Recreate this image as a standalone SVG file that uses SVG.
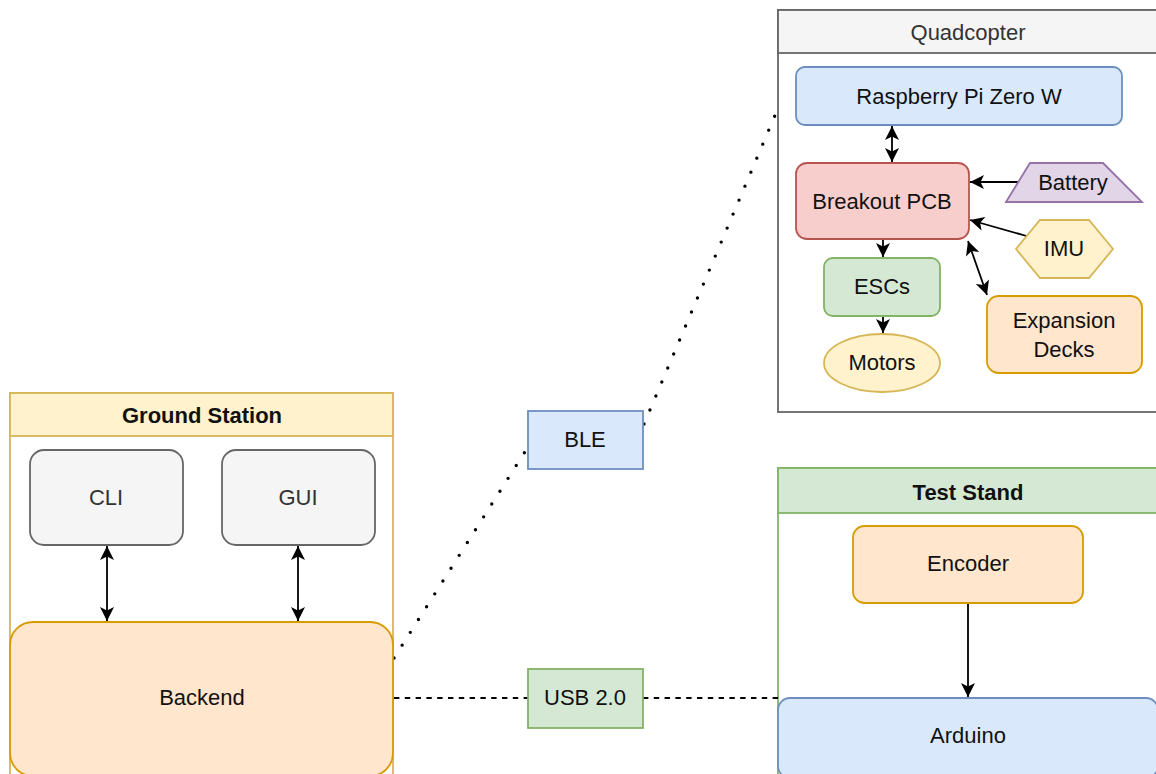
<svg xmlns="http://www.w3.org/2000/svg" width="1156" height="774" viewBox="0 0 1156 774">
<style>
text{font-family:"Liberation Sans",Arial,sans-serif;font-size:22px;fill:#111;text-anchor:middle;dominant-baseline:central}
.hdr{font-weight:bold}
.gray{fill:#333333}
.n{stroke-width:1.8}
.blue{fill:#dae8fc;stroke:#6c8ebf}
.red{fill:#f8cecc;stroke:#b85450}
.purple{fill:#e1d5e7;stroke:#9673a6}
.yellow{fill:#fff2cc;stroke:#d6b656}
.green{fill:#d5e8d4;stroke:#82b366}
.orange{fill:#ffe6cc;stroke:#d79b00}
.grey{fill:#f5f5f5;stroke:#666666}
.edge{fill:none;stroke:#000;stroke-width:1.8}
.dotted{fill:none;stroke:#000;stroke-width:3.4;stroke-linecap:round;stroke-dasharray:0 15.2}
.dashed{fill:none;stroke:#000;stroke-width:1.8;stroke-dasharray:5.4 5.4}
</style>
<defs>
<marker id="arr" viewBox="-15 -8 16 16" refX="0" refY="0" markerWidth="16" markerHeight="16" markerUnits="userSpaceOnUse" orient="auto-start-reverse">
<path d="M0,0 L-14,-7 L-10.5,0 L-14,7 Z" fill="#000"/>
</marker>
</defs>
<rect width="1156" height="774" fill="#fff"/>

<g id="quadcopter">
<rect x="778" y="10" width="380" height="402" fill="#fff" stroke="#666666" stroke-width="1.8"/>
<rect x="778" y="10" width="380" height="43" fill="#f5f5f5" stroke="#666666" stroke-width="1.8"/>
<text x="968" y="32" class="gray">Quadcopter</text>
</g>
<g id="ground-station">
<rect x="10" y="393" width="383" height="400" fill="#fff" stroke="#d6b656" stroke-width="1.8"/>
<rect x="10" y="393" width="383" height="43" fill="#fff2cc" stroke="#d6b656" stroke-width="1.8"/>
<text x="202" y="415" class="hdr">Ground Station</text>
</g>
<g id="test-stand">
<rect x="778" y="468" width="380" height="400" fill="#fff" stroke="#82b366" stroke-width="1.8"/>
<rect x="778" y="468" width="380" height="45" fill="#d5e8d4" stroke="#82b366" stroke-width="1.8"/>
<text x="968" y="492" class="hdr">Test Stand</text>
</g>

<g id="connectors">
<line class="edge" x1="892" y1="126" x2="892" y2="162" marker-start="url(#arr)" marker-end="url(#arr)"/>
<line class="edge" x1="1025" y1="182" x2="970" y2="182" marker-end="url(#arr)"/>
<line class="edge" x1="1030" y1="237" x2="970" y2="220" marker-end="url(#arr)"/>
<line class="edge" x1="968" y1="241" x2="987" y2="295" marker-start="url(#arr)" marker-end="url(#arr)"/>
<line class="edge" x1="883" y1="240" x2="883" y2="257" marker-end="url(#arr)"/>
<line class="edge" x1="883" y1="317" x2="883" y2="333" marker-end="url(#arr)"/>
<line class="edge" x1="107" y1="546" x2="107" y2="621" marker-start="url(#arr)" marker-end="url(#arr)"/>
<line class="edge" x1="298" y1="546" x2="298" y2="621" marker-start="url(#arr)" marker-end="url(#arr)"/>
<line class="edge" x1="968" y1="604" x2="968" y2="697" marker-end="url(#arr)"/>
<polyline class="dotted" points="394,658 528,447"/>
<polyline class="dotted" points="644,424 776,113"/>
<line class="dashed" x1="394" y1="698" x2="528" y2="698"/>
<line class="dashed" x1="643" y1="698" x2="778" y2="698"/>
</g>

<g id="raspberry-pi">
<rect x="796" y="67" width="326" height="58" rx="8.7" class="n blue"/>
<text x="959" y="96">Raspberry Pi Zero W</text>
</g>
<g id="breakout-pcb">
<rect x="796" y="163" width="173" height="76" rx="11" class="n red"/>
<text x="882" y="201">Breakout PCB</text>
</g>
<g id="battery">
<polygon points="1006,202 1030,163 1103,163 1142,202" class="n purple"/>
<text x="1073" y="182">Battery</text>
</g>
<g id="imu">
<polygon points="1016,249 1040,220 1089,220 1113,249 1089,278 1040,278" class="n yellow"/>
<text x="1064" y="248">IMU</text>
</g>
<g id="escs">
<rect x="824" y="258" width="116" height="58" rx="8.7" class="n green"/>
<text x="882" y="286">ESCs</text>
</g>
<g id="motors">
<ellipse cx="882" cy="363" rx="58" ry="29" class="n yellow"/>
<text x="882" y="362">Motors</text>
</g>
<g id="expansion-decks">
<rect x="987" y="296" width="155" height="77" rx="11.5" class="n orange"/>
<text x="1064" y="320">Expansion</text>
<text x="1064" y="349">Decks</text>
</g>
<g id="cli">
<rect x="30" y="450" width="153" height="95" rx="14" class="n grey"/>
<text x="106" y="497" class="gray">CLI</text>
</g>
<g id="gui">
<rect x="222" y="450" width="153" height="95" rx="14" class="n grey"/>
<text x="298" y="497" class="gray">GUI</text>
</g>
<g id="backend">
<rect x="10" y="622" width="383" height="154" rx="23" class="n orange"/>
<text x="202" y="697">Backend</text>
</g>
<g id="ble">
<rect x="528" y="411" width="115" height="58" class="n blue"/>
<text x="585" y="439">BLE</text>
</g>
<g id="usb">
<rect x="528" y="669" width="115" height="59" class="n green"/>
<text x="585" y="697">USB 2.0</text>
</g>
<g id="encoder">
<rect x="853" y="526" width="230" height="77" rx="11.5" class="n orange"/>
<text x="968" y="563">Encoder</text>
</g>
<g id="arduino">
<rect x="778" y="698" width="380" height="80" rx="12" class="n blue"/>
<text x="968" y="735">Arduino</text>
</g>
</svg>
